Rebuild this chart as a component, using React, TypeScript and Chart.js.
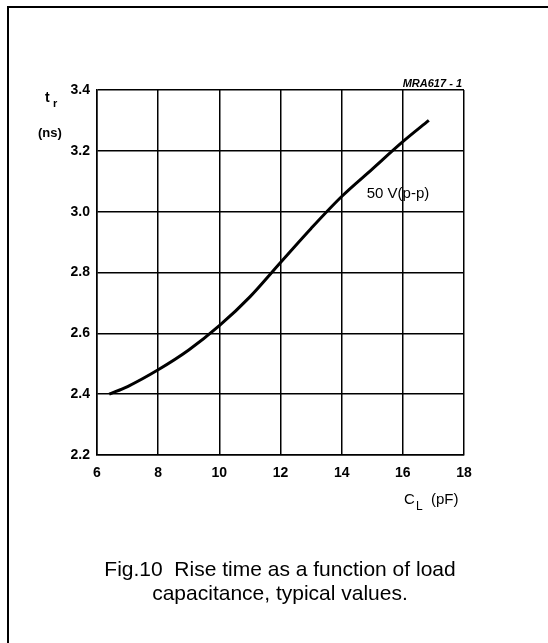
import React, { useEffect, useRef } from "react";
import { Chart, registerables } from "chart.js";

Chart.register(...registerables);

const capacitancePF: number[] = [6.4, 7, 8, 9, 10, 11, 12, 13, 14, 15, 16, 16.85];
const riseTimeNs: number[] = [2.4, 2.425, 2.48, 2.545, 2.625, 2.72, 2.833, 2.945, 3.05, 3.14, 3.23, 3.3];
const xTicks: number[] = [6, 8, 10, 12, 14, 16, 18];
const yTicks: number[] = [2.2, 2.4, 2.6, 2.8, 3.0, 3.2, 3.4];
const curveLabel = "50 V(p-p)";
const curveLabelPos: number[] = [14.82, 3.06];
const figureCode = "MRA617 - 1";
const captionLines: string[] = ["Fig.10  Rise time as a function of load", "capacitance, typical values."];

const FONT = "'Liberation Sans', Arial, Helvetica, sans-serif";

const annotations = {
  id: "annotations",
  afterDraw(chart: any) {
    const ctx = chart.ctx as CanvasRenderingContext2D;
    const { chartArea, scales } = chart;
    ctx.save();
    // outer frame
    ctx.strokeStyle = "#000";
    ctx.lineWidth = 2;
    ctx.beginPath();
    ctx.moveTo(8, 643);
    ctx.lineTo(8, 7);
    ctx.lineTo(548, 7);
    ctx.stroke();

    ctx.fillStyle = "#000";
    ctx.textBaseline = "middle";

    // figure code
    ctx.font = `italic bold 11px ${FONT}`;
    ctx.textAlign = "right";
    ctx.fillText(figureCode, chartArea.right - 2, 84);

    // y axis title
    ctx.textAlign = "left";
    ctx.font = `bold 14px ${FONT}`;
    ctx.fillText("t", 45, 98);
    ctx.font = `bold 11px ${FONT}`;
    ctx.fillText("r", 53, 104);
    ctx.font = `bold 13px ${FONT}`;
    ctx.fillText("(ns)", 38, 133);

    // x axis title
    ctx.font = `15px ${FONT}`;
    ctx.fillText("C", 404, 500);
    ctx.font = `12px ${FONT}`;
    ctx.fillText("L", 416, 507);
    ctx.font = `15px ${FONT}`;
    ctx.fillText("(pF)", 431, 500);

    // curve label
    ctx.font = `15px ${FONT}`;
    const lx = scales.x.getPixelForValue(curveLabelPos[0]);
    const ly = scales.y.getPixelForValue(curveLabelPos[1]);
    ctx.fillText(curveLabel, lx, ly);
    ctx.restore();
  },
};

export default function App() {
  const canvasRef = useRef<HTMLCanvasElement | null>(null);

  useEffect(() => {
    const canvas = canvasRef.current;
    if (!canvas) return;
    const chart = new Chart(canvas, {
      type: "line",
      data: {
        datasets: [
          {
            data: capacitancePF.map((x, i) => ({ x, y: riseTimeNs[i] })),
            borderColor: "#000",
            borderWidth: 3,
            pointRadius: 0,
            fill: false,
            cubicInterpolationMode: "monotone",
          },
        ],
      },
      options: {
        responsive: false,
        animation: false,
        devicePixelRatio: 1,
        layout: { padding: { left: 0, top: 90, right: 84, bottom: 148 } },
        plugins: { legend: { display: false }, tooltip: { enabled: false }, title: { display: false } },
        scales: {
          x: {
            type: "linear",
            min: xTicks[0],
            max: xTicks[xTicks.length - 1],
            afterFit: (s: any) => {
              s.height = 40;
            },
            afterBuildTicks: (s: any) => {
              s.ticks = xTicks.map((v) => ({ value: v }));
            },
            ticks: {
              color: "#000",
              padding: 10,
              font: { family: FONT, size: 14, weight: "bold" },
              callback: (v: any) => String(v),
            },
            grid: { color: "#000", lineWidth: 1.5, drawTicks: false },
            border: { display: true, color: "#000", width: 1.5 },
          },
          y: {
            type: "linear",
            min: yTicks[0],
            max: yTicks[yTicks.length - 1],
            afterFit: (s: any) => {
              s.width = 97;
            },
            afterBuildTicks: (s: any) => {
              s.ticks = yTicks.map((v) => ({ value: v }));
            },
            ticks: {
              color: "#000",
              padding: 7,
              font: { family: FONT, size: 14, weight: "bold" },
              callback: (v: any) => Number(v).toFixed(1),
            },
            grid: { color: "#000", lineWidth: 1.5, drawTicks: false },
            border: { display: true, color: "#000", width: 1.5 },
          },
        },
      },
      plugins: [annotations],
    });
    return () => chart.destroy();
  }, []);

  return (
    <div style={{ position: "fixed", left: 0, top: 0, width: 548, height: 643, background: "#fff", overflow: "hidden" }}>
      <canvas ref={canvasRef} width={548} height={643} style={{ position: "absolute", left: 0, top: 0 }} />
      <div
        style={{
          position: "absolute",
          left: 0,
          top: 557,
          width: 560,
          textAlign: "center",
          fontFamily: FONT,
          fontSize: 21,
          lineHeight: "24px",
          color: "#000",
        }}
      >
        {captionLines.map((l, i) => (
          <div key={i} style={{ whiteSpace: "pre" }}>
            {l}
          </div>
        ))}
      </div>
    </div>
  );
}
